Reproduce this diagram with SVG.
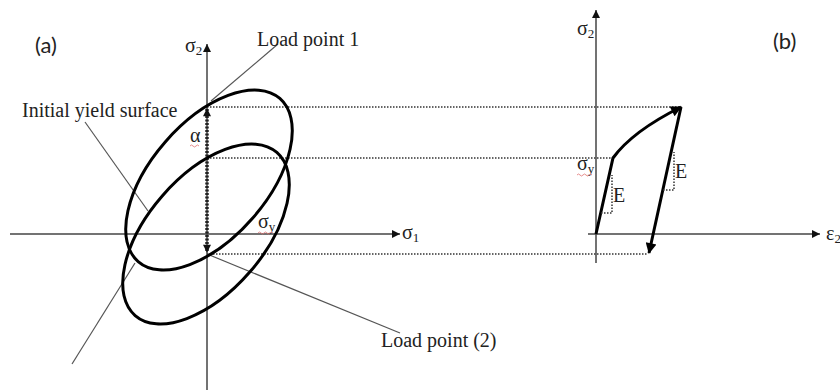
<svg xmlns="http://www.w3.org/2000/svg" width="840" height="390" viewBox="0 0 840 390">
<defs>
<style>
.axis{stroke:#444;stroke-width:1.5;fill:none}
.lead{stroke:#555;stroke-width:1.2;fill:none}
.dot{stroke:#333;stroke-width:1.5;fill:none;stroke-dasharray:1.5 1.5}
.thick{stroke:#000;stroke-width:3;fill:none}
.ser{font-family:"Liberation Serif","Times New Roman",serif;fill:#222}
.sans{font-family:Lato,"Open Sans","Liberation Sans",sans-serif;fill:#222}
.sq{stroke:#e07070;stroke-width:0.8;fill:none}
</style>
<marker id="ax" viewBox="0 0 10 10" refX="10" refY="5" markerWidth="8" markerHeight="8" markerUnits="userSpaceOnUse" orient="auto"><path d="M0,0 L10,5 L0,10 z" fill="#111"/></marker>
<marker id="big" viewBox="0 0 10 10" refX="9" refY="5" markerWidth="14" markerHeight="11" markerUnits="userSpaceOnUse" orient="auto"><path d="M0,0 L10,5 L0,10 z" fill="#000"/></marker>
<marker id="dm" viewBox="0 0 10 10" refX="9" refY="5" markerWidth="10" markerHeight="8" markerUnits="userSpaceOnUse" orient="auto-start-reverse"><path d="M0,0 L10,5 L0,10 z" fill="#111"/></marker>
</defs>

<g id="axes-a">
<line class="axis" x1="207" y1="390" x2="207" y2="44" marker-end="url(#ax)"/>
<line class="axis" x1="10" y1="234" x2="400" y2="234" marker-end="url(#ax)"/>
</g>

<g id="connectors">
<line class="dot" x1="207" y1="107" x2="680" y2="107"/>
<line class="dot" x1="207" y1="158" x2="612" y2="158"/>
<line class="dot" x1="207" y1="254" x2="648" y2="254"/>
<line class="lead" x1="278" y1="44" x2="211" y2="101"/>
<line class="lead" x1="85" y1="122" x2="148" y2="211"/>
<line class="lead" x1="72" y1="364" x2="135" y2="263"/>
<line class="lead" x1="207" y1="254" x2="400" y2="333"/>
<line x1="207" y1="109" x2="207" y2="252" stroke="#222" stroke-width="3.5" stroke-dasharray="2 1.5" marker-start="url(#dm)" marker-end="url(#dm)"/>
</g>

<g id="yield-surface-translated">
<ellipse class="thick" cx="209" cy="180" rx="108" ry="58" transform="rotate(-49 209 180)"/>
</g>
<g id="yield-surface-initial">
<ellipse class="thick" cx="206" cy="234" rx="108" ry="58" transform="rotate(-49 206 234)"/>
</g>

<g id="labels-a">
<text class="sans" x="35" y="53" font-size="22">(a)</text>
<text class="ser" x="257" y="46" font-size="20">Load point 1</text>
<text class="ser" x="22" y="117" font-size="20">Initial yield surface</text>
<text class="ser" x="381" y="347" font-size="20">Load point (2)</text>
<text class="ser" x="185" y="52" font-size="20">σ<tspan font-size="13" dy="3">2</tspan></text>
<text class="ser" x="402" y="239" font-size="20">σ<tspan font-size="13" dy="3">1</tspan></text>
<text class="ser" x="190" y="142" font-size="20">α</text>
<path class="sq" d="M190,146 q1.5,-2 3,0 t3,0 t3,0"/>
<text class="ser" x="258" y="228" font-size="20">σ<tspan font-size="13" dy="3">y</tspan></text>
<path class="sq" d="M258,233 q1.5,-2 3,0 t3,0 t3,0 t3,0 t3,0"/>
</g>

<g id="axes-b">
<line class="axis" x1="596" y1="263" x2="596" y2="10" marker-end="url(#ax)"/>
<line class="axis" x1="588" y1="234" x2="820" y2="234" marker-end="url(#ax)"/>
</g>

<g id="curve-b">
<path class="thick" d="M596,234 L613,158 C626,140 647,124 681,107" marker-end="url(#big)"/>
<line class="thick" x1="681" y1="107" x2="649" y2="253" marker-end="url(#big)"/>
<path class="dot" d="M601,213 H612 V175"/>
<path class="dot" d="M663,190 H674 V152"/>
</g>

<g id="labels-b">
<text class="sans" x="773" y="49" font-size="22">(b)</text>
<text class="ser" x="577" y="35" font-size="20">σ<tspan font-size="13" dy="3">2</tspan></text>
<text class="ser" x="577" y="170" font-size="20">σ<tspan font-size="13" dy="3">y</tspan></text>
<path class="sq" d="M577,175 q1.5,-2 3,0 t3,0 t3,0 t3,0 t3,0"/>
<text class="ser" x="613" y="202" font-size="20">E</text>
<text class="ser" x="675" y="178" font-size="20">E</text>
<text class="ser" x="826" y="240" font-size="20">ε<tspan font-size="13" dy="3">2</tspan></text>
</g>
</svg>
